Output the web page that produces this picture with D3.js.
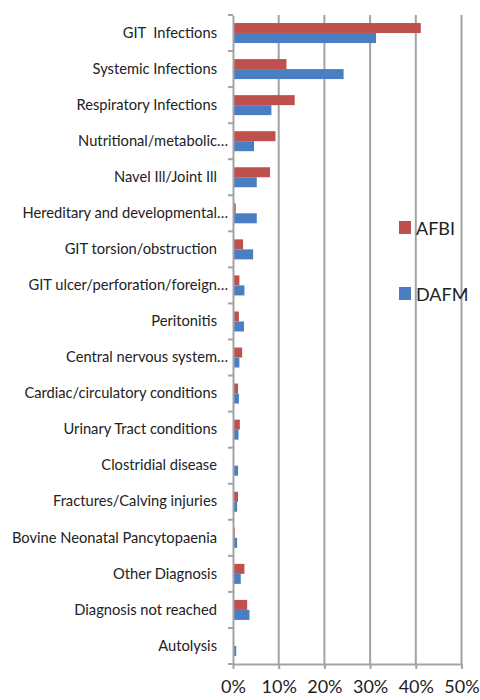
<!DOCTYPE html>
<html lang="en">
<head>
    <meta charset="UTF-8">
    <title>Diagnosis by lab</title>
    <script src="https://d3js.org/d3.v7.min.js"></script>
    <style>
        body { margin: 0; background: #fff; font-family: Lato, "Open Sans", Arial, sans-serif; }
        text { white-space: pre; }
    </style>
</head>
<body>
    <div class="chart"></div>
    <script>
        const categories = [
            'GIT  Infections', 'Systemic Infections', 'Respiratory Infections',
            'Nutritional/metabolic…', 'Navel Ill/Joint Ill', 'Hereditary and developmental…',
            'GIT torsion/obstruction', 'GIT ulcer/perforation/foreign…', 'Peritonitis',
            'Central nervous system…', 'Cardiac/circulatory conditions', 'Urinary Tract conditions',
            'Clostridial disease', 'Fractures/Calving injuries', 'Bovine Neonatal Pancytopaenia',
            'Other Diagnosis', 'Diagnosis not reached', 'Autolysis'
        ];
        const afbi = [41.1, 11.7, 13.5, 9.3, 8.1, 0.6, 2.2, 1.4, 1.3, 2.0, 1.1, 1.5, 0, 1.1, 0.4, 2.5, 3.1, 0];
        const dafm = [31.3, 24.2, 8.4, 4.6, 5.2, 5.2, 4.4, 2.5, 2.4, 1.4, 1.3, 1.2, 1.1, 0.9, 0.9, 1.7, 3.6, 0.7];
        const seriesNames = ['AFBI', 'DAFM'];
        const colors = ['#C0504D', '#4A7EC2'];
        const xTicks = [0, 10, 20, 30, 40, 50];

        const svgWidth = 480, svgHeight = 700;
        const plotLeft = 233, plotRight = 461.5, plotTop = 15, plotBottom = 664;
        const gridColor = '#a3a3a7';
        const font = 'Lato, "Open Sans", Arial, sans-serif';

        const svg = d3.select('.chart').append('svg')
            .attr('width', svgWidth)
            .attr('height', svgHeight);

        const x = d3.scaleLinear().domain([0, 50]).range([plotLeft, plotRight]);
        const y = d3.scaleBand().domain(categories).range([plotTop, plotBottom]);
        const sub = d3.scaleBand().domain(seriesNames)
            .range([y.bandwidth() / 2 - 10, y.bandwidth() / 2 + 10]);

        // vertical gridlines
        svg.append('g').selectAll('line')
            .data(xTicks.slice(1))
            .join('line')
            .attr('x1', d => x(d)).attr('x2', d => x(d))
            .attr('y1', plotTop).attr('y2', plotBottom)
            .attr('stroke', gridColor).attr('stroke-width', 2);

        // bars
        const rows = categories.map((c, i) => ({ c, vals: [afbi[i], dafm[i]] }));
        const grp = svg.append('g').selectAll('g')
            .data(rows)
            .join('g')
            .attr('transform', d => `translate(0,${y(d.c)})`);
        grp.selectAll('rect')
            .data(d => d.vals.map((v, k) => ({ v, k })))
            .join('rect')
            .attr('x', x(0))
            .attr('y', d => sub(seriesNames[d.k]))
            .attr('height', sub.bandwidth())
            .attr('width', d => x(d.v) - x(0))
            .attr('fill', d => colors[d.k]);

        // bottom axis
        const xAxis = svg.append('g')
            .attr('transform', `translate(0,${plotBottom})`)
            .call(d3.axisBottom(x).tickValues(xTicks).tickFormat(d => d + '%').tickSize(5).tickSizeOuter(0));
        xAxis.select('.domain').attr('stroke', gridColor).attr('stroke-width', 2);
        xAxis.selectAll('.tick line').attr('stroke', gridColor).attr('stroke-width', 2);
        xAxis.selectAll('.tick text')
            .attr('y', 16)
            .attr('font-family', font)
            .attr('font-size', 18)
            .attr('fill', '#222');

        // left axis
        const yAxis = svg.append('g')
            .attr('transform', `translate(${plotLeft},0)`)
            .call(d3.axisLeft(y).tickSize(0).tickSizeOuter(0).tickPadding(16));
        yAxis.select('.domain').attr('stroke', gridColor).attr('stroke-width', 2);
        yAxis.selectAll('.tick text')
            .attr('font-family', font)
            .attr('font-size', 14.7)
            .attr('fill', '#222')
            .attr('dx', d => d.endsWith('…') ? 11 : 0);

        // ticks between categories
        svg.append('g').selectAll('line')
            .data(d3.range(categories.length + 1))
            .join('line')
            .attr('x1', plotLeft - 5).attr('x2', plotLeft)
            .attr('y1', i => plotTop + i * y.step()).attr('y2', i => plotTop + i * y.step())
            .attr('stroke', gridColor).attr('stroke-width', 2);

        // legend
        const legend = svg.append('g').selectAll('g')
            .data(seriesNames)
            .join('g')
            .attr('transform', (d, i) => `translate(399,${221 + i * 66})`);
        legend.append('rect')
            .attr('width', 12).attr('height', 13)
            .attr('fill', (d, i) => colors[i]);
        legend.append('text')
            .attr('x', 17).attr('y', 14)
            .attr('font-family', font)
            .attr('font-size', 18)
            .attr('fill', '#222')
            .text(d => d);
    </script>
</body>
</html>
